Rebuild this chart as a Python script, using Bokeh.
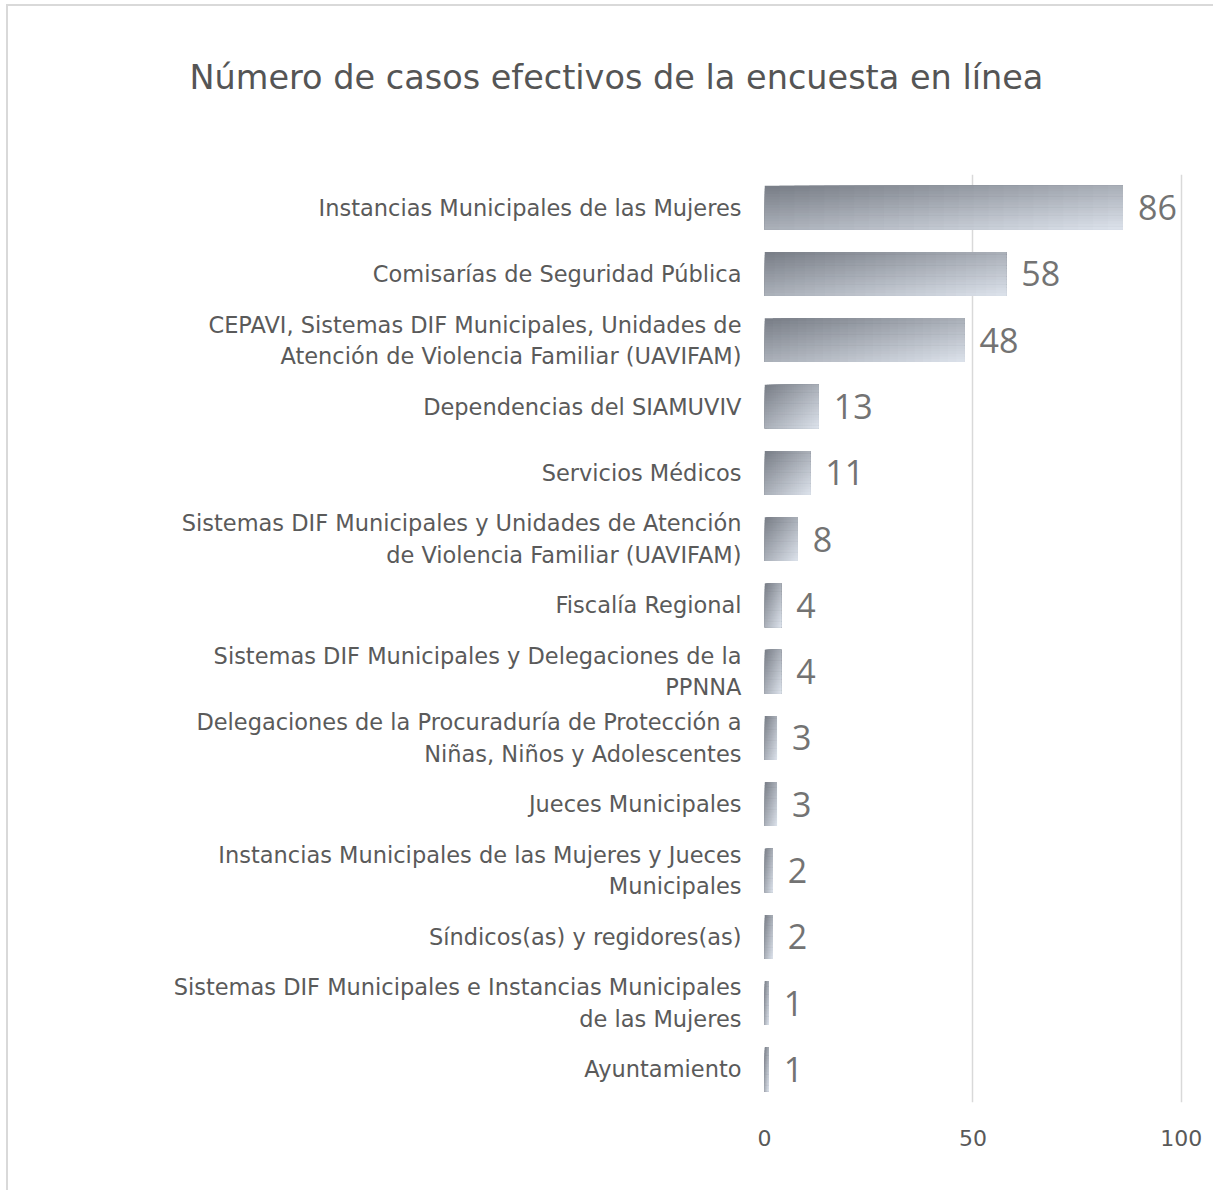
from bokeh.plotting import figure
from bokeh.layouts import column
from bokeh.models import Range1d, FactorRange, Title, FixedTicker, ColumnDataSource
from bokeh.transform import dodge
from bokeh.core.properties import value
from bokeh.embed import file_html
from bokeh.resources import INLINE

categories = [
    "Instancias Municipales de las Mujeres",
    "Comisarías de Seguridad Pública",
    "CEPAVI, Sistemas DIF Municipales, Unidades de\nAtención de Violencia Familiar (UAVIFAM)",
    "Dependencias del SIAMUVIV",
    "Servicios Médicos",
    "Sistemas DIF Municipales y Unidades de Atención\nde Violencia Familiar (UAVIFAM)",
    "Fiscalía Regional",
    "Sistemas DIF Municipales y Delegaciones de la\nPPNNA",
    "Delegaciones de la Procuraduría de Protección a\nNiñas, Niños y Adolescentes",
    "Jueces Municipales",
    "Instancias Municipales de las Mujeres y Jueces\nMunicipales",
    "Síndicos(as) y regidores(as)",
    "Sistemas DIF Municipales e Instancias Municipales\nde las Mujeres",
    "Ayuntamiento",
]
values = [86, 58, 48, 13, 11, 8, 4, 4, 3, 3, 2, 2, 1, 1]
x_ticks = [0, 50, 100]
title_text = "Número de casos efectivos de la encuesta en línea"

LABEL_FONT = "DejaVu Sans"
NUM_FONT = "Open Sans"

cats_rev = categories[::-1]
vals_rev = values[::-1]
label_source = ColumnDataSource(dict(cat=cats_rev, val=vals_rev, lbl=[str(v) for v in vals_rev]))

W, H = 1205, 1208
p = figure(width=W, height=H, output_backend="svg", toolbar_location=None,
           y_range=FactorRange(factors=cats_rev, range_padding=0),
           x_range=Range1d(0, 101),
           min_border_left=756, min_border_right=28, min_border_top=192, min_border_bottom=88)
p.styles = {"margin-top": "-24px"}
p.outline_line_color = None
p.background_fill_color = "white"
p.border_fill_color = None

p.xgrid.ticker = FixedTicker(ticks=x_ticks)
p.xgrid.grid_line_color = "#d9d9d9"
p.xgrid.grid_line_width = 1.5
p.ygrid.grid_line_color = None

# diagonal gradient bars: vertical strips x horizontal segments, each overpainting the rest
bar_h = 0.66
NV, NH = 16, 24
dark = (0x7a, 0x7f, 0x88)
light = (0xda, 0xe0, 0xe9)
sh = bar_h / NV
for i in range(NV):
    v = i / (NV - 1)
    hgt = bar_h - i * sh
    off = bar_h / 2 - i * sh - hgt / 2
    for j in range(NH):
        u = j / (NH - 1)
        t = 0.5 * u + 0.5 * v
        c = tuple(int(round(dark[k] + (light[k] - dark[k]) * t)) for k in range(3))
        col = "#%02x%02x%02x" % c
        src = ColumnDataSource(dict(cat=cats_rev,
                                    left=[val * j / NH for val in vals_rev],
                                    right=vals_rev))
        p.hbar(y=dodge("cat", off, range=p.y_range), left="left", right="right", height=hgt,
               fill_color=col, line_color=None, source=src)

p.text(x="val", y="cat", text="lbl", source=label_source, x_offset=15,
       text_baseline="middle", text_align="left", text_font_size="34px",
       text_color="#737373", text_font=value(NUM_FONT))

p.xaxis.ticker = FixedTicker(ticks=x_ticks)
p.xaxis.axis_line_color = None
p.xaxis.major_tick_line_color = None
p.xaxis.minor_tick_line_color = None
p.xaxis.major_label_text_font = LABEL_FONT
p.xaxis.major_label_text_font_size = "22px"
p.xaxis.major_label_text_color = "#595959"
p.xaxis.major_label_text_font_style = "normal"
p.xaxis.major_label_standoff = 21

p.yaxis.axis_line_color = None
p.yaxis.major_tick_line_color = None
p.yaxis.minor_tick_line_color = None
p.yaxis.major_label_text_font = LABEL_FONT
p.yaxis.major_label_text_font_size = "22.5px"
p.yaxis.major_label_text_color = "#5a5a5a"
p.yaxis.major_label_standoff = 17

p.add_layout(Title(text=title_text, align="left", offset=-575, standoff=151,
                   vertical_align="top",
                   text_font=LABEL_FONT, text_font_size="33.5px", text_font_style="normal",
                   text_color="#555555"), "above")

layout = column(p, styles={"border-left": "2px solid #d9d9d9", "border-top": "2px solid #d9d9d9",
                           "margin-left": "6px", "margin-top": "4px"})

open("out.html", "w").write(file_html(layout, INLINE))
